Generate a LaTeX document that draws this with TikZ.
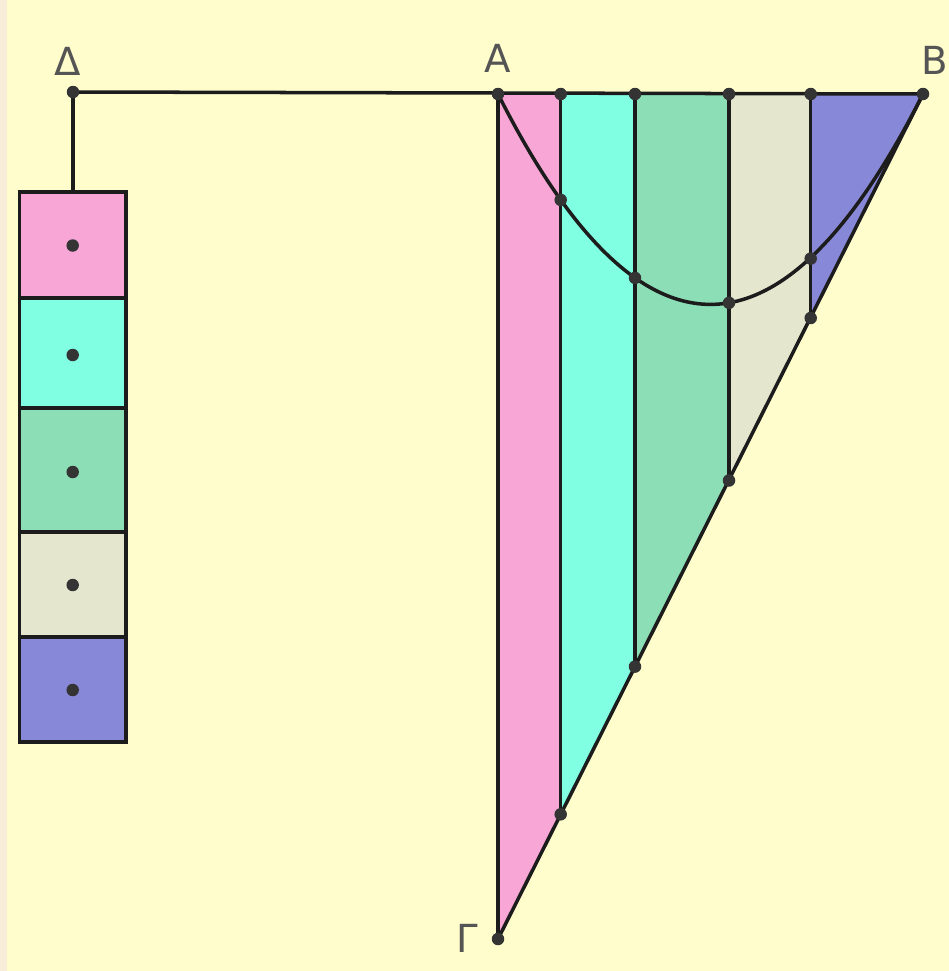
\documentclass[tikz,border=0pt]{standalone}
\usepackage{fontspec}
\setmainfont{DejaVu Sans}
\definecolor{bgc}{RGB}{255,253,204}
\definecolor{stripc}{RGB}{247,237,216}
\definecolor{linec}{RGB}{28,28,28}
\definecolor{dotc}{RGB}{52,52,52}
\definecolor{labc}{RGB}{85,85,85}
\definecolor{pinkc}{RGB}{247,166,214}
\definecolor{cyanc}{RGB}{128,255,226}
\definecolor{greenc}{RGB}{140,222,182}
\definecolor{beigec}{RGB}{228,230,206}
\definecolor{bluec}{RGB}{136,136,216}
\begin{document}
\begin{tikzpicture}[x=0.02cm,y=-0.02cm,
  edge/.style={line width=2pt, draw=linec, line join=round, line cap=round},
  boxe/.style={line width=2pt, draw=linec},
  pt/.style={circle, fill=dotc, inner sep=0pt, minimum size=0.25cm},
  lab/.style={text=labc, font=\fontsize{22}{22}\selectfont, inner sep=0pt}]
\useasboundingbox (0,0) rectangle (949,971);
\fill[bgc] (0,0) rectangle (949,971);
\fill[stripc] (0,0) rectangle (7,971);
% main points
\coordinate (D) at (73,92);
\coordinate (A) at (498,94);
\coordinate (B) at (923,94);
\coordinate (G) at (498,939);
\coordinate (T1) at (560.7,94);
\coordinate (T2) at (635,94);
\coordinate (T3) at (729,94);
\coordinate (T4) at (810.7,94);
\coordinate (H1) at (560.7,814.3);
\coordinate (H2) at (635,666.6);
\coordinate (H3) at (729,480.5);
\coordinate (H4) at (810.7,318);
\coordinate (P1) at (560.7,199.9);
\coordinate (P2) at (635,277.9);
\coordinate (P3) at (729,302.8);
\coordinate (P4) at (810.7,258.6);
\coordinate (K) at (73,192);
% strips of the triangle
\fill[pinkc] (A) -- (T1) -- (H1) -- (G) -- cycle;
\fill[cyanc] (T1) -- (T2) -- (H2) -- (H1) -- cycle;
\fill[greenc] (T2) -- (T3) -- (H3) -- (H2) -- cycle;
\fill[beigec] (T3) -- (T4) -- (H4) -- (H3) -- cycle;
\fill[bluec] (T4) -- (B) -- (H4) -- cycle;
% boxes on the left
\draw[boxe, fill=pinkc] (19.5,192) rectangle (126,298);
\draw[boxe, fill=cyanc] (19.5,298) rectangle (126,408);
\draw[boxe, fill=greenc] (19.5,408) rectangle (126,532);
\draw[boxe, fill=beigec] (19.5,532) rectangle (126,637);
\draw[boxe, fill=bluec] (19.5,637) rectangle (126,742);
% lines
\draw[edge] (D) -- (B);
\draw[edge] (D) -- (K);
\draw[edge] (A) -- (G);
\draw[edge] (B) -- (G);
\draw[edge] (T1) -- (H1);
\draw[edge] (T2) -- (H2);
\draw[edge] (T3) -- (H3);
\draw[edge] (T4) -- (H4);
\draw[edge] (A) .. controls (639.67,374.53) and (781.33,374.53) .. (B);
% dots
\foreach \p in {D,A,B,G,T1,T2,T3,T4,H1,H2,H3,H4,P1,P2,P3,P4}
  \node[pt] at (\p) {};
\node[pt] (c1) at (72.7,245.5) {};
\node[pt] (c2) at (72.7,355) {};
\node[pt] (c3) at (72.7,472) {};
\node[pt] (c4) at (72.7,585) {};
\node[pt] (c5) at (72.7,690) {};
% labels
\node[lab] (lD) at (68,61.5) {Δ};
\node[lab] (lA) at (498,58) {A};
\node[lab] (lB) at (935,60) {B};
\node[lab] (lG) at (467,938) {Γ};
\end{tikzpicture}
\end{document}
